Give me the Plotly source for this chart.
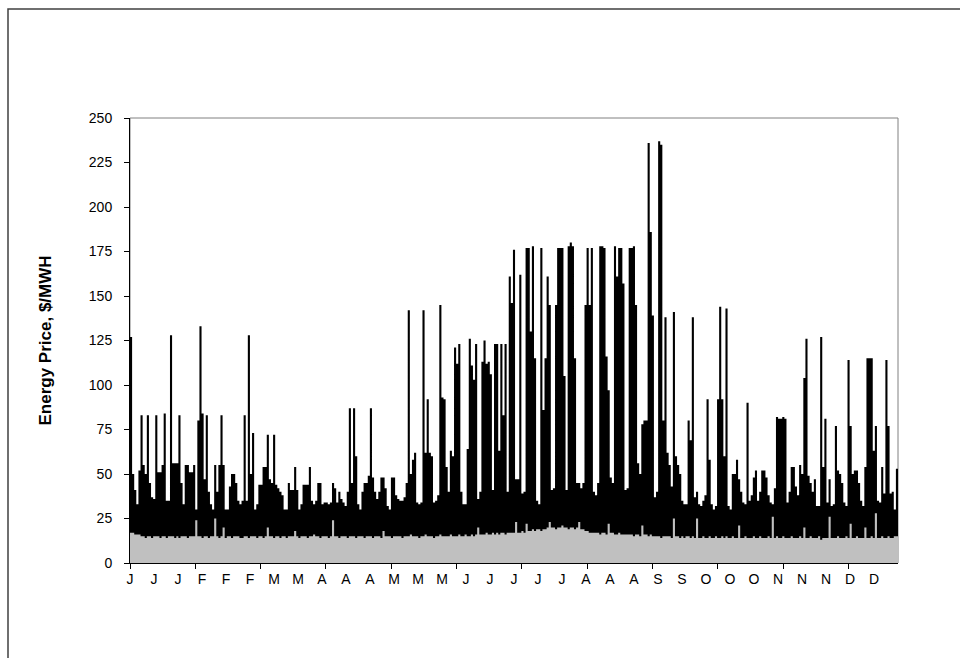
import plotly.graph_objects as go

# Daily peak hourly energy price ($/MWH), one value per day of the year
daily_peak = [
    127, 50, 41, 33, 52, 83, 55, 50, 83, 45, 37, 36, 83, 51, 51, 55, 84, 35, 35, 128,
    56, 56, 56, 83, 45, 33, 55, 55, 51, 51, 55, 30, 80, 133, 84, 47, 83, 40, 33, 30,
    55, 40, 55, 83, 55, 30, 30, 43, 50, 50, 45, 35, 33, 35, 83, 35, 128, 50, 73, 30,
    33, 44, 44, 54, 54, 72, 47, 45, 72, 44, 42, 40, 38, 30, 30, 45, 41, 41, 54, 41,
    30, 33, 44, 44, 44, 54, 35, 33, 35, 45, 45, 33, 34, 34, 33, 34, 45, 42, 34, 40,
    36, 34, 32, 40, 87, 45, 87, 60, 33, 30, 40, 45, 45, 49, 87, 48, 40, 36, 40, 48,
    48, 42, 32, 30, 48, 48, 38, 36, 35, 35, 37, 45, 142, 50, 58, 62, 34, 33, 34, 142,
    62, 92, 62, 60, 34, 35, 38, 145, 93, 92, 54, 40, 63, 60, 121, 112, 123, 40, 33, 33,
    64, 126, 111, 103, 123, 36, 40, 113, 125, 112, 113, 106, 41, 123, 123, 63, 123, 83, 123, 40,
    161, 146, 176, 47, 47, 162, 39, 40, 177, 177, 130, 178, 115, 35, 33, 177, 86, 115, 161, 145,
    41, 42, 145, 177, 177, 177, 105, 41, 178, 180, 178, 115, 45, 45, 42, 45, 145, 177, 145, 177,
    40, 38, 45, 178, 178, 177, 116, 97, 48, 45, 178, 161, 177, 177, 157, 41, 42, 177, 177, 178,
    145, 56, 50, 78, 80, 80, 236, 186, 139, 37, 40, 237, 235, 80, 138, 62, 55, 43, 141, 60,
    55, 50, 35, 33, 33, 80, 69, 138, 37, 40, 33, 32, 35, 38, 92, 58, 33, 30, 32, 92,
    144, 92, 60, 143, 32, 30, 50, 50, 58, 47, 40, 34, 33, 90, 35, 38, 48, 52, 35, 40,
    52, 52, 48, 38, 34, 33, 42, 82, 81, 81, 82, 81, 34, 40, 54, 54, 43, 38, 55, 50,
    104, 126, 49, 45, 40, 47, 32, 32, 127, 54, 81, 34, 47, 32, 33, 77, 52, 50, 45, 34,
    32, 114, 77, 50, 52, 52, 45, 35, 32, 54, 115, 115, 115, 63, 77, 35, 34, 54, 39, 114,
    77, 39, 40, 30, 53,
]

# Daily base (off-peak) price level, drawn as the grey area
daily_base = [
    17, 17, 16, 16, 16, 15, 15, 14, 15, 15, 14, 15, 15, 15, 14, 15, 15, 14, 15, 15,
    15, 14, 15, 14, 15, 15, 15, 14, 15, 15, 15, 24, 15, 15, 14, 15, 15, 14, 15, 15,
    25, 15, 14, 15, 20, 14, 15, 15, 14, 15, 15, 15, 14, 14, 15, 15, 14, 15, 15, 15,
    14, 15, 15, 14, 15, 20, 15, 15, 14, 15, 15, 14, 15, 15, 14, 15, 15, 15, 18, 15,
    14, 15, 15, 15, 14, 15, 15, 16, 15, 15, 14, 15, 15, 15, 14, 15, 24, 15, 15, 14,
    15, 15, 15, 14, 15, 15, 15, 14, 15, 15, 15, 14, 15, 15, 15, 14, 15, 15, 15, 14,
    18, 15, 15, 15, 14, 15, 15, 15, 15, 14, 15, 15, 15, 16, 15, 15, 15, 14, 15, 15,
    16, 15, 15, 15, 14, 15, 15, 16, 15, 15, 15, 15, 16, 15, 15, 15, 16, 15, 15, 16,
    15, 15, 16, 15, 16, 20, 16, 16, 16, 17, 16, 16, 17, 16, 17, 16, 17, 17, 16, 17,
    17, 17, 17, 23, 17, 17, 18, 17, 22, 18, 18, 19, 18, 19, 19, 18, 19, 19, 20, 23,
    20, 20, 19, 20, 20, 21, 20, 20, 19, 20, 20, 19, 20, 23, 19, 19, 18, 18, 17, 17,
    17, 17, 17, 16, 17, 17, 16, 22, 17, 17, 16, 16, 17, 16, 16, 16, 16, 16, 16, 15,
    16, 16, 15, 21, 16, 16, 15, 16, 15, 15, 15, 15, 14, 15, 15, 15, 15, 14, 25, 15,
    15, 14, 15, 14, 15, 15, 14, 15, 14, 25, 14, 14, 15, 14, 14, 15, 14, 14, 15, 14,
    14, 15, 14, 15, 14, 14, 15, 14, 14, 21, 14, 14, 15, 14, 14, 14, 15, 14, 14, 15,
    14, 14, 14, 15, 14, 26, 14, 15, 14, 14, 15, 14, 14, 14, 15, 14, 14, 14, 15, 14,
    20, 14, 14, 15, 14, 14, 14, 15, 13, 14, 14, 14, 26, 14, 14, 14, 15, 14, 14, 14,
    15, 14, 22, 14, 14, 15, 14, 14, 14, 20, 14, 14, 15, 14, 28, 14, 14, 15, 14, 14,
    15, 14, 14, 15, 15,
]

# Month initials shown along the hourly axis
month_labels = ["J", "J", "J", "F", "F", "F", "M", "M", "A", "A", "A",
                "M", "M", "M", "J", "J", "J", "J", "J", "A", "A", "A",
                "S", "S", "O", "O", "O", "N", "N", "N", "D", "D"]

assert len(daily_peak) == 365 and len(daily_base) == 365

HOURS_IN_YEAR = 8760
HOURS_PER_DAY = 24
TICK_MARK_EVERY = 745  # hours between x-axis tick marks
n_days = len(daily_peak)

# step edges in hours: each day's value holds for its 24 hours
x_hours = [d * HOURS_PER_DAY for d in range(n_days)] + [HOURS_IN_YEAR]
peak_steps = daily_peak + daily_peak[-1:]
base_steps = daily_base + daily_base[-1:]

label_step = HOURS_IN_YEAR / len(month_labels)
label_pos = [i * label_step for i in range(len(month_labels))]
tick_pos = list(range(0, HOURS_IN_YEAR + 1, TICK_MARK_EVERY))

FONT = "Arial, 'Liberation Sans', sans-serif"

fig = go.Figure()
fig.add_trace(go.Scatter(
    x=x_hours, y=peak_steps, mode="lines",
    line=dict(width=0, shape="hv", color="black"),
    fill="tozeroy", fillcolor="black", hoverinfo="skip", showlegend=False,
))
# base area sits on the overlaid label axis (same range) so it paints over the peaks
fig.add_trace(go.Scatter(
    x=x_hours, y=base_steps, mode="lines", xaxis="x2", yaxis="y",
    line=dict(width=0, shape="hv", color="#c0c0c0"),
    fill="tozeroy", fillcolor="#c0c0c0", hoverinfo="skip", showlegend=False,
))

fig.update_layout(
    width=960, height=658,
    margin=dict(l=130, r=62, t=118, b=95),
    paper_bgcolor="white", plot_bgcolor="white",
    font=dict(family=FONT, size=14, color="black"),
    showlegend=False,
    # tick marks only
    xaxis=dict(
        range=[0, HOURS_IN_YEAR], showgrid=False, zeroline=False,
        showline=True, linecolor="black", linewidth=1,
        tickmode="array", tickvals=tick_pos, showticklabels=False,
        ticks="outside", ticklen=5, tickcolor="black", tickwidth=1,
    ),
    # month labels only
    xaxis2=dict(
        overlaying="x", anchor="y", side="bottom",
        range=[0, HOURS_IN_YEAR], showgrid=False, zeroline=False, showline=False,
        tickmode="array", tickvals=label_pos, ticktext=month_labels,
        ticks="", ticklabelstandoff=6,
        tickfont=dict(family=FONT, size=14, color="black"),
    ),
    yaxis=dict(
        range=[0, 250], dtick=25, tick0=0, showgrid=False, zeroline=False,
        showline=True, linecolor="black", linewidth=1,
        ticks="outside", ticklen=5, tickcolor="black", ticklabelstandoff=9,
        tickfont=dict(family=FONT, size=14, color="black"),
    ),
    shapes=[
        # plot area frame (top and right edges show in grey)
        dict(type="rect", xref="paper", yref="paper", x0=0, x1=1, y0=0, y1=1,
             line=dict(color="#808080", width=1), layer="below"),
        # chart area frame
        dict(type="rect", xref="paper", yref="paper",
             x0=(8 - 130) / 768, x1=1.3, y0=-0.4, y1=(563 - 9) / 445,
             line=dict(color="#404040", width=1.5), layer="below"),
    ],
    annotations=[
        dict(text="<b>Energy Price, $/MWH</b>", xref="paper", yref="paper",
             x=(45 - 130) / 768, y=0.5, textangle=-90, showarrow=False,
             font=dict(family=FONT, size=17, color="black"),
             xanchor="center", yanchor="middle"),
    ],
)

fig.write_html("out.html")
